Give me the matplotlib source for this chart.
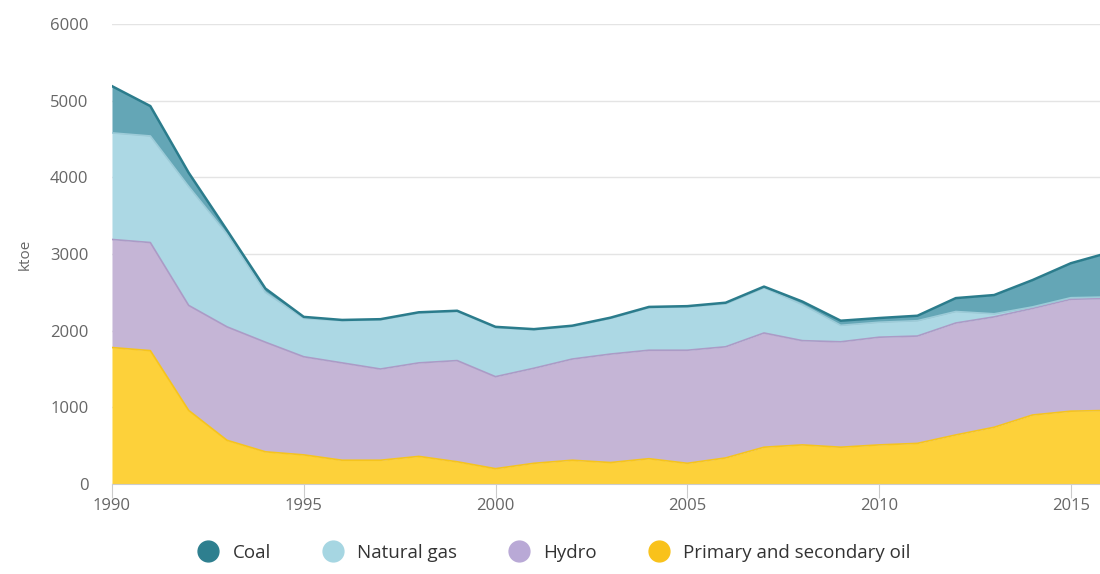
import matplotlib
matplotlib.use("Agg")
import matplotlib.pyplot as plt
from matplotlib.lines import Line2D

years = list(range(1990, 2017))
oil = [1780, 1740, 960, 570, 420, 380, 310, 310, 360, 290, 200, 270, 310, 280,
       330, 270, 340, 480, 510, 480, 510, 530, 640, 740, 900, 950, 960]
hydro = [1410, 1410, 1370, 1480, 1430, 1280, 1270, 1190, 1220, 1320, 1200, 1240,
         1320, 1415, 1415, 1475, 1450, 1490, 1360, 1375, 1405, 1400, 1460, 1440,
         1390, 1460, 1460]
gas = [1390, 1390, 1550, 1210, 650, 500, 550, 640, 650, 640, 640, 500, 425, 465,
       555, 565, 560, 590, 470, 215, 195, 200, 150, 40, 20, 20, 20]
coal = [610, 390, 180, 50, 50, 20, 10, 10, 10, 10, 10, 10, 10, 10, 10, 10, 15, 15,
        40, 60, 55, 65, 175, 245, 350, 450, 580]

labels = ["Coal", "Natural gas", "Hydro", "Primary and secondary oil"]
fills = ["#64a6b6", "#acd8e4", "#c5b5d6", "#fdd13a"]
edges = ["#2b7c8c", "#9ccbd8", "#ab9bc6", "#f6c41c"]
dots = ["#2e7f8f", "#a6d6e2", "#b9a9d6", "#f9c21b"]

plt.rcParams['font.family'] = ['Open Sans', 'DejaVu Sans']

fig = plt.figure(figsize=(11, 5.74), dpi=100)
ax = fig.add_axes([0.1018, 0.1568, 0.8982, 0.8013])

# stack from bottom: oil, hydro, gas, coal
series = [oil, hydro, gas, coal]
sfill = fills[::-1]
sedge = edges[::-1]
base = [0] * len(years)
for vals, fc, ec in zip(series, sfill, sedge):
    top = [b + v for b, v in zip(base, vals)]
    ax.fill_between(years, base, top, color=fc, lw=0, zorder=2)
    ax.plot(years, top, color=ec, lw=1.8 if ec == edges[0] else 1.2, zorder=3)
    base = top

ax.set_xlim(1990, 2015.76)
ax.set_ylim(0, 6000)
ax.set_yticks(range(0, 6001, 1000))
ax.set_xticks(range(1990, 2016, 5))
ax.yaxis.grid(True, color="#e4e4e4", lw=1)
ax.set_axisbelow(True)
for s in ["top", "right", "left"]:
    ax.spines[s].set_visible(False)
ax.spines["bottom"].set_color("#cccccc")
ax.tick_params(axis="y", length=0, pad=17, labelsize=12, labelcolor="#666666")
ax.tick_params(axis="x", length=10, color="#cccccc", pad=0, labelsize=12,
               labelcolor="#666666")
ax.set_ylabel("ktoe", fontsize=11, color="#666666", labelpad=12)

handles = [Line2D([], [], marker="o", ls="", markersize=15, color=c) for c in dots]
fig.legend(handles, labels, loc="center", bbox_to_anchor=(0.5, 0.037), ncol=4,
           frameon=False, fontsize=13.5, handletextpad=0.3, columnspacing=2.3,
           labelcolor="#333333")

fig.savefig("out.png", dpi=100)
